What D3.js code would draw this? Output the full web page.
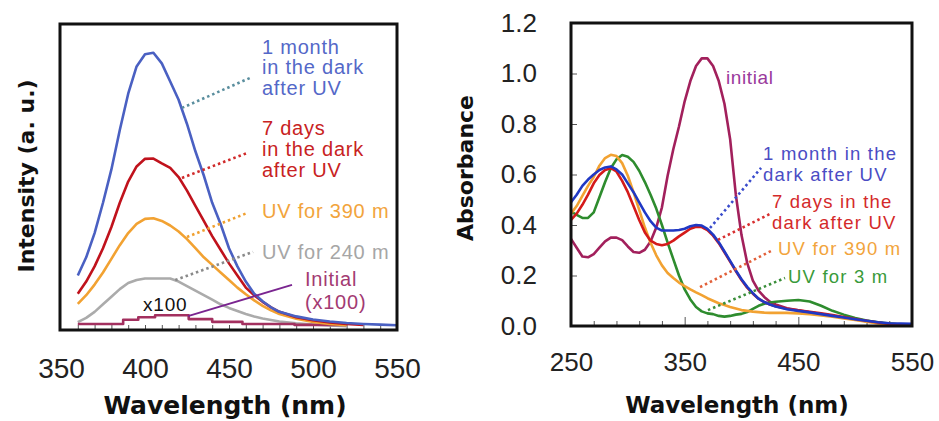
<!DOCTYPE html>
<html>
<head>
<meta charset="utf-8">
<script src="https://cdnjs.cloudflare.com/ajax/libs/d3/7.8.5/d3.min.js"></script>
<style>
  body { margin: 0; background: #fff; }
  svg { display: block; }
  text { font-family: "Liberation Sans", Arial, sans-serif; }
  .title { font-family: "DejaVu Sans", sans-serif; font-weight: bold; fill: #111; }
</style>
</head>
<body>
<svg id="chart" width="939" height="421"></svg>
<script>
// ---- left panel: emission (intensity, a.u.) ----
var wlL = [360,365,370,375,380,385,390,395,400,405,410,415,420,425,430,435,440,445,450,455,460,465,470,475,480,
           490,500,510,520,530,540,550];
var month1L = [17,23,31,41,52,65,77,86,90,90.5,87,81,75,67,58,50,41,34,26,20,15,11,8.5,6.5,5,
               3.5,2.5,1.8,1.3,1,0.8,0.6];
var days7L  = [11,15,20,26,33,41,48,53,55.5,55.6,54,52.5,49.5,45,40,35,30,25.5,21,17,13,10.5,8.3,6.5,5,
               3.2,2.2,1.5,1,0.7,null,null];
var uv390L  = [7.6,10.5,14,18,22.5,27,31,34,35.7,35.9,35,33.5,31.5,29,26,23,20.5,18,15.5,13,10.8,8.8,7,5.5,4.3,
               2.7,1.7,1,0.6,null,null,null];
var uv240L  = [1.6,3,5,7.5,10,12.5,14.5,15.5,16,16,16,16,15,13.5,12,10.5,9,7.5,6.3,5.3,4.3,3.5,2.8,2.3,1.8,
               1.2,0.8,0.5,0.3,null,null,null];
// initial (x100), stepped trace
var initWlL  = [360,387,396,406,426,440,458,489,520];
var initValL = [1.0,2.4,3.2,3.9,2.6,1.7,1.0,0.7,0.7];
var ticksL = [350,400,450,500,550];

// ---- right panel: absorbance ----
var wlR = [250,255,260,265,270,275,280,285,290,295,300,305,310,315,320,325,330,335,340,345,350,355,360,365,
           370,375,380,385,390,395,400,405,410,415,420,425,430,
           440,450,460,470,480,490,500,510,520,530,540,550];
var initialR = [0.345,0.31,0.275,0.272,0.285,0.31,0.335,0.35,0.35,0.34,0.315,0.293,0.29,0.302,0.335,0.39,0.47,0.595,0.7,0.79,0.89,0.97,1.03,1.06,
                1.06,1.03,0.97,0.88,0.74,0.52,0.36,0.25,0.18,0.14,0.115,0.096,0.085,
                0.07,0.062,0.054,0.047,0.04,0.033,0.026,0.019,0.013,0.009,0.006,0.004];
var month1R = [0.49,0.52,0.555,0.58,0.6,0.618,0.628,0.632,0.62,0.6,0.565,0.53,0.49,0.45,0.415,0.39,0.378,0.378,0.378,0.38,0.385,0.395,0.4,0.398,
               0.385,0.362,0.332,0.295,0.258,0.22,0.185,0.155,0.13,0.108,0.095,0.085,0.077,
               0.066,0.06,0.054,0.047,0.04,0.034,0.027,0.021,0.015,0.011,0.01,0.009];
var days7R = [0.42,0.445,0.48,0.52,0.565,0.598,0.618,0.625,0.612,0.575,0.53,0.475,0.42,0.37,0.338,0.325,0.32,0.325,0.338,0.355,0.37,0.385,0.393,0.392,
              0.38,0.358,0.328,0.292,0.255,0.218,0.182,0.152,0.128,0.108,0.095,0.085,0.078,
              0.068,0.062,0.056,0.05,0.043,0.036,0.028,0.021,0.014,0.008,0.005,0.003];
var uv390R = [0.445,0.475,0.515,0.555,0.59,0.635,0.665,0.678,0.673,0.645,0.595,0.53,0.46,0.39,0.33,0.28,0.24,0.21,0.19,0.172,0.158,0.145,0.133,0.122,
              0.11,0.1,0.09,0.083,0.075,0.069,0.063,0.06,0.057,0.055,0.053,0.052,0.052,
              0.052,0.05,0.047,0.042,0.037,0.03,0.024,0.017,0.01,0.006,0.004,0.003];
var uv3R = [0.453,0.44,0.428,0.428,0.45,0.51,0.57,0.625,0.66,0.677,0.67,0.65,0.615,0.57,0.52,0.465,0.4,0.33,0.265,0.2,0.145,0.105,0.075,0.058,
            0.05,0.047,0.04,0.037,0.04,0.045,0.048,0.055,0.068,0.08,0.088,0.093,0.096,
            0.1,0.103,0.097,0.08,0.06,0.045,0.032,0.022,0.015,0.01,0.006,0.004];
var ticksRx = [250,350,450,550];
var ticksRy = [0,0.2,0.4,0.6,0.8,1.0,1.2];

var svg = d3.select("#chart");

var xL = d3.scaleLinear().domain([350, 550]).range([61, 397]);
var yL = d3.scaleLinear().domain([0, 100]).range([327, 24]);
var xR = d3.scaleLinear().domain([250, 550]).range([571, 912]);
var yR = d3.scaleLinear().domain([0, 1.2]).range([326, 23]);

function pairs(xs, ys) {
  return xs.map(function(x, i) { return [x, ys[i]]; });
}

function drawLine(g, data, x, y, color, curve) {
  var line = d3.line()
    .defined(function(d) { return d[1] != null; })
    .x(function(d) { return x(d[0]); })
    .y(function(d) { return y(d[1]); })
    .curve(curve || d3.curveLinear);
  g.append("path")
    .datum(data)
    .attr("d", line)
    .attr("fill", "none")
    .attr("stroke", color)
    .attr("stroke-width", 2.6)
    .attr("stroke-linejoin", "round");
}

// leader: [[x0,y0],[x1,y1]] in data units
function leader(g, seg, x, y, color, dotted) {
  g.append("line")
    .attr("x1", x(seg[0][0])).attr("y1", y(seg[0][1]))
    .attr("x2", x(seg[1][0])).attr("y2", y(seg[1][1]))
    .attr("stroke", color)
    .attr("stroke-width", dotted ? 2.6 : 1.8)
    .attr("stroke-dasharray", dotted ? "2.5,3" : null);
}

function label(g, lines, xv, yvs, x, y, color, size, spacing) {
  lines.forEach(function(t, i) {
    g.append("text")
      .attr("x", x(xv)).attr("y", y(yvs[i]))
      .attr("dy", "0.35em")
      .attr("fill", color)
      .style("font-size", (size || 20) + "px")
      .style("letter-spacing", (spacing == null ? 0.8 : spacing) + "px")
      .text(t);
  });
}

// ---------- left panel ----------
var gL = svg.append("g");

gL.append("g")
  .attr("transform", "translate(0,330)")
  .call(d3.axisBottom(xL).tickValues(d3.range(360, 550, 10)).tickSize(-5).tickFormat(""))
  .call(function(a) { a.select(".domain").remove(); a.selectAll("line").attr("stroke", "#555"); });

drawLine(gL, pairs(wlL, uv240L), xL, yL, "#ababab");
drawLine(gL, pairs(initWlL, initValL), xL, yL, "#a3305f", d3.curveStepAfter);
drawLine(gL, pairs(wlL, uv390L), xL, yL, "#f2a232");
drawLine(gL, pairs(wlL, days7L), xL, yL, "#c0121c");
drawLine(gL, pairs(wlL, month1L), xL, yL, "#4a60c2");

gL.append("rect")
  .attr("x", 60).attr("y", 24).attr("width", 337).attr("height", 306)
  .attr("fill", "none").attr("stroke", "#111").attr("stroke-width", 3);

gL.append("g")
  .attr("transform", "translate(0,330)")
  .call(d3.axisBottom(xL).tickValues(ticksL).tickSize(0).tickPadding(28))
  .call(function(a) {
    a.select(".domain").remove();
    a.selectAll("text").style("font-size", "28px").style("font-family", "Liberation Sans, Arial").attr("fill", "#222");
  });

leader(gL, [[422, 72.3], [462.5, 82.2]], xL, yL, "#5a8e9e", true);
leader(gL, [[422, 49.2], [460.7, 57.4]], xL, yL, "#d02a2a", true);
leader(gL, [[425, 29.7], [460.7, 37.6]], xL, yL, "#f0a030", true);
leader(gL, [[418, 15.5], [464.3, 24.8]], xL, yL, "#8a8a8a", true);
leader(gL, [[425.6, 3.6], [487.5, 13.9]], xL, yL, "#7a2590", false);

label(gL, ["1 month", "in the dark", "after UV"], 469.6, [92.4, 85.8, 78.9], xL, yL, "#5468c8");
label(gL, ["7 days", "in the dark", "after UV"], 469.6, [65.7, 58.7, 51.8], xL, yL, "#c82222");
label(gL, ["UV for 390 m"], 469.6, [38.3], xL, yL, "#f2a43c");
label(gL, ["UV for 240 m"], 469.6, [24.8], xL, yL, "#a6a6a6");
label(gL, ["Initial", "(x100)"], 495.2, [15.8, 8.3], xL, yL, "#a33a72");
label(gL, ["x100"], 398.8, [7.6], xL, yL, "#111", 19);

gL.append("text").attr("class", "title")
  .attr("x", 225).attr("y", 414).attr("text-anchor", "middle")
  .style("font-size", "25px").text("Wavelength (nm)");
gL.append("text").attr("class", "title")
  .attr("transform", "translate(34,176) rotate(-90)").attr("text-anchor", "middle")
  .style("font-size", "22px").text("Intensity (a. u.)");

// ---------- right panel ----------
var gR = svg.append("g");

gR.append("g")
  .attr("transform", "translate(0,326)")
  .call(d3.axisBottom(xR).tickValues(d3.range(270, 550, 20).filter(function(v) { return v != 350 && v != 450; })).tickSize(-5).tickFormat(""))
  .call(function(a) { a.select(".domain").remove(); a.selectAll("line").attr("stroke", "#555"); });
gR.append("g")
  .attr("transform", "translate(0,326)")
  .call(d3.axisBottom(xR).tickValues([350, 450]).tickSize(-9).tickFormat(""))
  .call(function(a) { a.select(".domain").remove(); a.selectAll("line").attr("stroke", "#555"); });
gR.append("g")
  .attr("transform", "translate(571,0)")
  .call(d3.axisLeft(yR).tickValues([0.2, 0.4, 0.6, 0.8, 1.0]).tickSize(-6).tickFormat(""))
  .call(function(a) { a.select(".domain").remove(); a.selectAll("line").attr("stroke", "#555"); });

drawLine(gR, pairs(wlR, initialR), xR, yR, "#a2205c");
drawLine(gR, pairs(wlR, uv3R), xR, yR, "#2e8c2e");
drawLine(gR, pairs(wlR, uv390R), xR, yR, "#f2a232");
drawLine(gR, pairs(wlR, days7R), xR, yR, "#d41a1a");
drawLine(gR, pairs(wlR, month1R), xR, yR, "#2038c4");

gR.append("rect")
  .attr("x", 571).attr("y", 23).attr("width", 341).attr("height", 303)
  .attr("fill", "none").attr("stroke", "#111").attr("stroke-width", 3);

gR.append("g")
  .attr("transform", "translate(0,326)")
  .call(d3.axisBottom(xR).tickValues(ticksRx).tickSize(0).tickPadding(27))
  .call(function(a) {
    a.select(".domain").remove();
    a.selectAll("text").style("font-size", "26px").style("font-family", "Liberation Sans, Arial").attr("fill", "#222");
  });
gR.append("g")
  .attr("transform", "translate(571,0)")
  .call(d3.axisLeft(yR).tickValues(ticksRy).tickSize(0).tickPadding(34).tickFormat(d3.format(".1f")))
  .call(function(a) {
    a.select(".domain").remove();
    a.selectAll("text").style("font-size", "26px").style("font-family", "Liberation Sans, Arial").attr("fill", "#222");
  });

leader(gR, [[372.3, 0.388], [417.2, 0.626]], xR, yR, "#3a4ccc", true);
leader(gR, [[379.3, 0.341], [425.1, 0.444]], xR, yR, "#d83030", true);
leader(gR, [[363.5, 0.154], [427.7, 0.301]], xR, yR, "#e2603a", true);
leader(gR, [[370.5, 0.063], [438.3, 0.19]], xR, yR, "#3a8e3a", true);

label(gR, ["initial"], 386.4, [0.986], xR, yR, "#9a3a9c", 19, 0.6);
label(gR, ["1 month in the", "dark after UV"], 419, [0.683, 0.6], xR, yR, "#4a4cc4", 18.5, 1.2);
label(gR, ["7 days in the", "dark after UV"], 426.8, [0.491, 0.408], xR, yR, "#d42a2a", 18.5, 1.2);
label(gR, ["UV for 390 m"], 432.1, [0.305], xR, yR, "#f2a43c", 18.5, 1.2);
label(gR, ["UV for 3 m"], 440.9, [0.194], xR, yR, "#3a9a3a", 18.5, 1.2);

gR.append("text").attr("class", "title")
  .attr("x", 737).attr("y", 413).attr("text-anchor", "middle")
  .style("font-size", "23px").text("Wavelength (nm)");
gR.append("text").attr("class", "title")
  .attr("transform", "translate(473,168) rotate(-90)").attr("text-anchor", "middle")
  .style("font-size", "22px").text("Absorbance");
</script>
</body>
</html>
